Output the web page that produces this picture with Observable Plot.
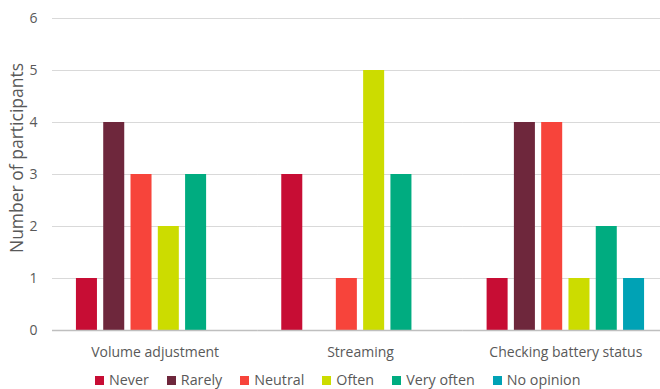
<!DOCTYPE html>
<html>
<head>
<meta charset="utf-8">
<script src="https://cdn.jsdelivr.net/npm/d3@7"></script>
<script src="https://cdn.jsdelivr.net/npm/@observablehq/plot@0.6"></script>
<style>
  html, body { margin: 0; padding: 0; background: #fff; overflow: hidden; }
  #wrap { position: relative; width: 660px; height: 389px; font-family: "Open Sans", sans-serif; color: #595959; }
  #ylabel { position: absolute; left: 16px; top: 158px; transform: translate(-50%, -50%) rotate(-90deg); white-space: nowrap; font-size: 17.5px; }
  #legend { position: absolute; left: 95px; top: 369px; display: flex; align-items: center; font-size: 14.3px; line-height: 22px; }
  #legend .item { display: flex; align-items: center; margin-right: 18px; }
  #legend .sw { width: 9px; height: 9px; margin-right: 5px; }
  svg { display: block; }
</style>
</head>
<body>
<div id="wrap">
  <div id="chart"></div>
  <div id="ylabel">Number of participants</div>
  <div id="legend"></div>
</div>
<script>
const categories = ["Volume adjustment", "Streaming", "Checking battery status"];
const series = ["Never", "Rarely", "Neutral", "Often", "Very often", "No opinion"];
const colors = ["#C70D34", "#6E273C", "#F7443B", "#CCDC00", "#00AC80", "#00A2B5"];
const never = [1, 3, 1];
const rarely = [4, 0, 4];
const neutral = [3, 1, 4];
const often = [2, 5, 1];
const veryOften = [3, 3, 2];
const noOpinion = [0, 0, 1];
const yTicks = [0, 1, 2, 3, 4, 5, 6];

const valuesBySeries = [never, rarely, neutral, often, veryOften, noOpinion];
const data = [];
categories.forEach((c, ci) => {
  series.forEach((s, si) => {
    data.push({category: c, series: s, value: valuesBySeries[si][ci]});
  });
});

const chart = Plot.plot({
  width: 660,
  height: 367,
  marginLeft: 52,
  marginRight: -8,
  marginTop: 18,
  marginBottom: 37,
  style: {fontFamily: "Open Sans, sans-serif", fontSize: "14px", color: "#595959", background: "#fff", overflow: "visible"},
  fx: {domain: categories, padding: 0, round: false, label: null, tickSize: 0, tickPadding: 17},
  x: {domain: series, paddingInner: 0.23, paddingOuter: 0.877, round: false, axis: null},
  y: {domain: [0, 6], ticks: yTicks, grid: true, label: null, tickSize: 0, tickPadding: 15, tickFormat: d => d},
  color: {domain: series, range: colors},
  facet: {data: data, x: "category", label: null},
  marks: [
    Plot.ruleY(yTicks.slice(1), {stroke: "#d9d9d9", strokeWidth: 1, strokeOpacity: 1}),
    Plot.barY(data, {x: "series", y: "value", fill: "series", filter: d => d.value > 0}),
    Plot.ruleY([0], {stroke: "#bfbfbf", strokeWidth: 1.3})
  ]
});
document.getElementById("chart").appendChild(chart);

const legend = document.getElementById("legend");
series.forEach((s, i) => {
  const item = document.createElement("div");
  item.className = "item";
  const sw = document.createElement("span");
  sw.className = "sw";
  sw.style.background = colors[i];
  const t = document.createElement("span");
  t.textContent = s;
  item.appendChild(sw);
  item.appendChild(t);
  legend.appendChild(item);
});
</script>
</body>
</html>
